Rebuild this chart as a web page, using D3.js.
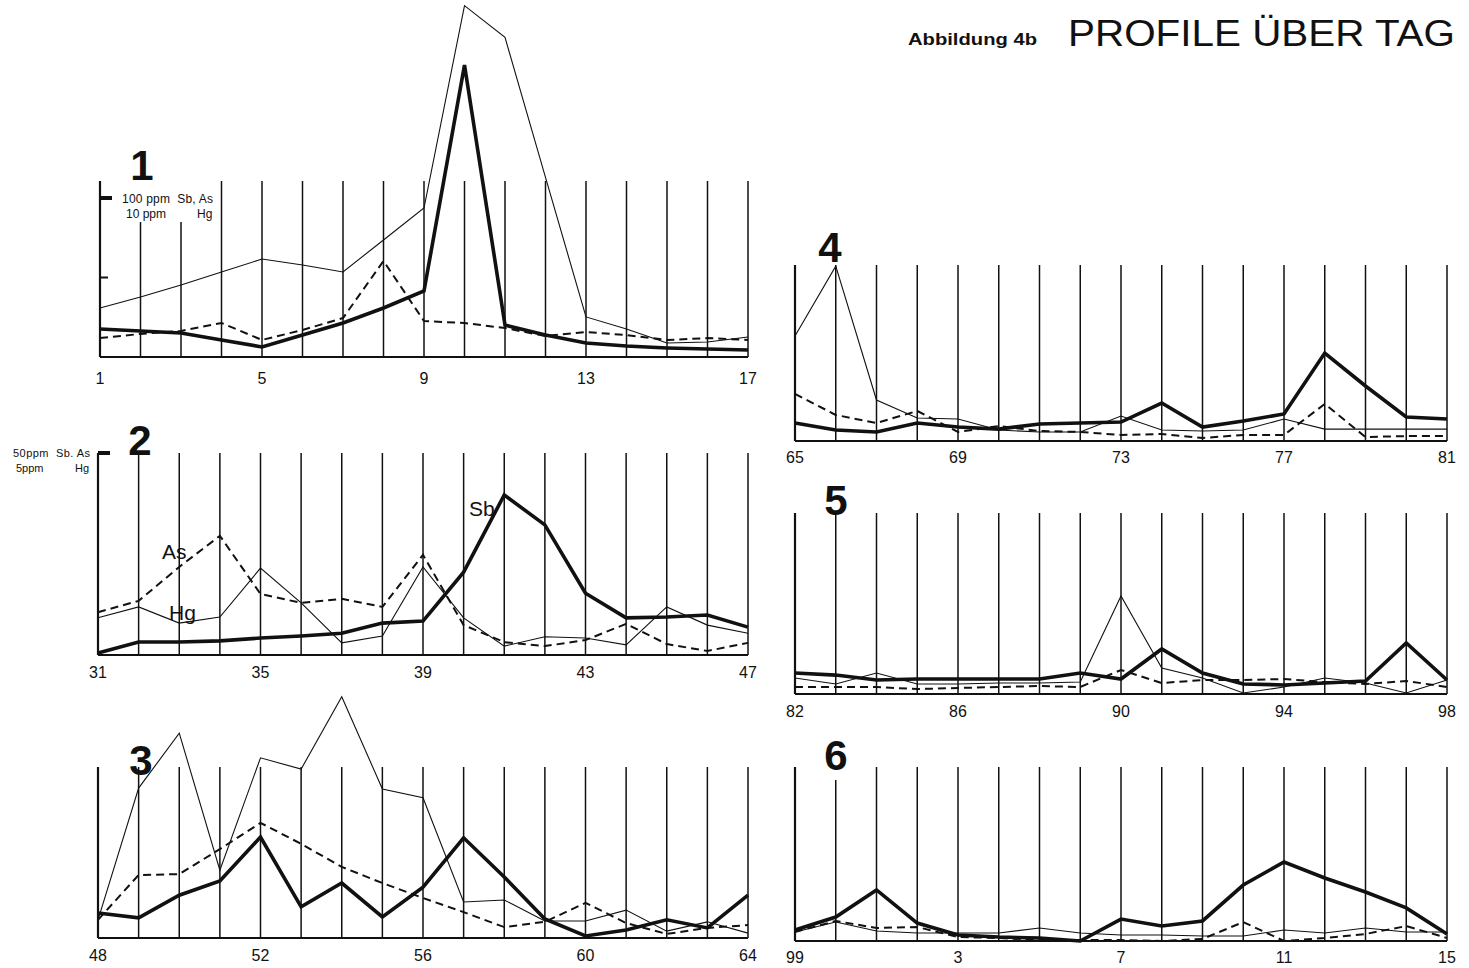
<!DOCTYPE html>
<html><head><meta charset="utf-8">
<script src="https://cdn.jsdelivr.net/npm/d3@7"></script>
<style>body{margin:0;background:#fff}svg{display:block}text{fill:#111}</style>
</head><body><svg id="c" width="1469" height="968"></svg>
<script>
// ---------- DATA (ppm; Sb & As on the ppm scale, Hg on the 1/10 scale) ----------
const p1Samples = ["1","2","3","4","5","6","7","8","9","10","11","12","13","14","15","16","17"];
const p1Ticks   = ["1","5","9","13","17"];
const p1Sb = [17.6,16.4,15.1,10.7,6.3,13.8,21.4,30.8,41.5,183.6,20.1,13.8,8.8,6.9,5.7,5.0,4.4];
const p1As = [11.9,14.5,16.4,21.4,10.7,17.0,24.5,60.4,22.6,21.4,18.2,13.2,15.7,13.8,10.7,11.9,10.7];
const p1Hg = [3.08,3.77,4.53,5.35,6.16,5.79,5.35,7.36,9.37,22.1,20.1,11.3,2.52,1.76,0.88,0.94,1.26];

const p2Samples = ["31","32","33","34","35","36","37","38","39","40","41","42","43","44","45","46","47"];
const p2Ticks   = ["31","35","39","43","47"];
const p2Sb = [0.5,3.2,3.2,3.5,4.2,4.7,5.4,7.9,8.4,20.5,39.6,32.2,15.3,9.2,9.4,9.9,6.9];
const p2As = [10.6,13.4,21.8,29.5,15.1,12.9,13.9,11.9,24.8,7.4,3.2,2.2,3.7,7.7,2.7,1.0,3.0];
const p2Hg = [0.92,1.19,0.79,0.94,2.15,1.29,0.30,0.47,2.18,0.92,0.22,0.45,0.42,0.25,1.19,0.74,0.54];

const p3Samples = ["48","49","50","51","52","53","54","55","56","57","58","59","60","61","62","63","64"];
const p3Ticks   = ["48","52","56","60","64"];
const p3Sb = [6.2,5.0,10.6,14.1,25.0,7.7,13.6,5.2,12.6,24.8,15.1,4.7,0.5,2.0,4.5,2.5,10.6];
const p3As = [4.5,15.6,15.8,22.0,28.5,23.3,17.6,13.6,9.9,6.4,2.7,4.0,8.7,3.7,1.0,2.5,3.2];
const p3Hg = [0.45,3.71,5.07,1.68,4.46,4.18,5.97,3.69,3.47,0.89,0.94,0.42,0.42,0.69,0.17,0.40,0.12];

const p4Samples = ["65","66","67","68","69","70","71","72","73","74","75","76","77","78","79","80","81"];
const p4Ticks   = ["65","69","73","77","81"];
const p4Sb = [11.3,6.9,5.7,11.3,8.8,7.5,10.7,11.3,11.9,23.9,8.8,12.6,17.0,55.3,34.6,15.1,13.8];
const p4As = [29.6,16.4,11.3,18.9,5.7,9.4,6.3,5.7,3.8,4.4,1.9,3.8,3.8,23.3,2.5,3.1,3.1];
const p4Hg = [6.60,11.0,2.58,1.45,1.38,0.69,0.57,0.57,1.57,0.69,0.63,0.69,1.38,0.75,0.75,0.75,0.75];

const p5Samples = ["82","83","84","85","86","87","88","89","90","91","92","93","94","95","96","97","98"];
const p5Ticks   = ["82","86","90","94","98"];
const p5Sb = [13.2,11.9,8.8,9.4,9.4,9.4,9.4,13.2,9.4,28.3,13.2,6.3,5.7,6.9,8.2,32.1,8.8];
const p5As = [4.4,4.4,4.4,3.1,3.8,4.4,5.0,4.4,15.1,6.9,8.8,8.8,9.4,7.5,6.3,8.2,4.4];
const p5Hg = [1.01,0.63,1.32,0.63,0.63,0.69,0.69,0.75,6.16,1.64,1.01,0.06,0.44,1.01,0.69,0.06,0.88];

const p6Samples = ["99","100","1","2","3","4","5","6","7","8","9","10","11","12","13","14","15"];
const p6Ticks   = ["99","3","7","11","15"];
const p6Sb = [6.9,15.1,32.1,11.3,3.8,2.5,1.9,0,13.8,9.4,12.6,35.2,49.7,39.6,30.8,20.8,4.4];
const p6As = [5.7,12.6,8.2,8.8,2.5,1.9,0.6,0.6,0.6,0,1.3,11.9,0,1.9,4.4,9.4,1.9];
const p6Hg = [0.57,1.19,0.63,0.50,0.50,0.50,0.82,0.50,0.38,0.38,0.31,0.31,0.69,0.50,0.82,0.57,0.57];

const panelNames = ["1","2","3","4","5","6"];
const scaleTexts1 = ["100 ppm  Sb, As", "10 ppm", "Hg"];
const scaleTexts2 = ["50ppm  Sb. As", "5ppm", "Hg"];

// ---------- LAYOUT ----------
const svg = d3.select("#c");
const INK = "#111";
const font = "'Liberation Sans', Arial, sans-serif";

const panels = [
  {samples:p1Samples,ticks:p1Ticks,sb:p1Sb,as:p1As,hg:p1Hg,x0:100,x1:748,base:357,top:181,unit:100,unitY:198,num:[142,180],lab:27},
  {samples:p2Samples,ticks:p2Ticks,sb:p2Sb,as:p2As,hg:p2Hg,x0:98,x1:748,base:655,top:453,unit:50,unitY:453,num:[140,455],lab:23},
  {samples:p3Samples,ticks:p3Ticks,sb:p3Sb,as:p3As,hg:p3Hg,x0:98,x1:748,base:938,top:767,unit:50,unitY:736,num:[141,775],lab:23},
  {samples:p4Samples,ticks:p4Ticks,sb:p4Sb,as:p4As,hg:p4Hg,x0:795,x1:1447,base:441,top:265,unit:100,unitY:282,num:[830,262],lab:22},
  {samples:p5Samples,ticks:p5Ticks,sb:p5Sb,as:p5As,hg:p5Hg,x0:795,x1:1447,base:694,top:513,unit:100,unitY:535,num:[836,515],lab:23},
  {samples:p6Samples,ticks:p6Ticks,sb:p6Sb,as:p6As,hg:p6Hg,x0:795,x1:1447,base:941,top:767,unit:100,unitY:782,num:[836,770],lab:22}
];

panels.forEach((p, pi) => {
  const g = svg.append("g");
  const x = d3.scalePoint().domain(p.samples).range([p.x0, p.x1]);
  const y = d3.scaleLinear().domain([0, p.unit]).range([p.base, p.unitY]);
  const yHg = d3.scaleLinear().domain([0, p.unit / 10]).range([p.base, p.unitY]);

  // vertical sample lines
  g.selectAll("line.v").data(p.samples).join("line")
    .attr("x1", d => x(d)).attr("x2", d => x(d))
    .attr("y1", (d, i) => (pi === 0 && (i === 1 || i === 2)) ? 222 : (pi === 5 && i === 1 ? 780 : p.top))
    .attr("y2", p.base)
    .attr("stroke", INK).attr("stroke-width", (d, i) => i === 0 ? 2.2 : 1.5);

  // baseline
  g.append("line").attr("x1", p.x0).attr("x2", p.x1).attr("y1", p.base).attr("y2", p.base)
    .attr("stroke", INK).attr("stroke-width", 2);

  // x tick labels
  g.selectAll("text.t").data(p.ticks).join("text")
    .attr("x", d => x(d)).attr("y", p.base + p.lab)
    .attr("text-anchor", "middle").attr("font-family", font).attr("font-size", 16)
    .text(d => d);

  // panel number
  g.append("text").attr("x", p.num[0]).attr("y", p.num[1])
    .attr("text-anchor", "middle").attr("font-family", font).attr("font-weight", "bold")
    .attr("font-size", 42).text(panelNames[pi]);

  const lineGen = (sc) => d3.line().x((d, i) => x(p.samples[i])).y(d => sc(d));

  g.append("path").attr("d", lineGen(yHg)(p.hg)).attr("fill", "none")
    .attr("stroke", INK).attr("stroke-width", 1.1).attr("stroke-linejoin", "miter");
  g.append("path").attr("d", lineGen(y)(p.as)).attr("fill", "none")
    .attr("stroke", INK).attr("stroke-width", 2).attr("stroke-dasharray", "8,5");
  g.append("path").attr("d", lineGen(y)(p.sb)).attr("fill", "none")
    .attr("stroke", INK).attr("stroke-width", 3.6).attr("stroke-linejoin", "miter");

  // scale marks
  if (pi === 0) {
    g.append("line").attr("x1", p.x0).attr("x2", p.x0 + 12).attr("y1", y(100)).attr("y2", y(100))
      .attr("stroke", INK).attr("stroke-width", 4);
    g.append("line").attr("x1", p.x0).attr("x2", p.x0 + 8).attr("y1", y(50)).attr("y2", y(50))
      .attr("stroke", INK).attr("stroke-width", 2);
    g.append("text").attr("x", 122).attr("y", y(100) + 5).attr("font-family", font).attr("font-size", 12)
      .attr("xml:space", "preserve").attr("textLength", 91).attr("lengthAdjust", "spacing").text(scaleTexts1[0]);
    g.append("text").attr("x", 126).attr("y", y(100) + 20).attr("font-family", font).attr("font-size", 12).text(scaleTexts1[1]);
    g.append("text").attr("x", 197).attr("y", y(100) + 20).attr("font-family", font).attr("font-size", 12).text(scaleTexts1[2]);
  }
  if (pi === 1) {
    g.append("line").attr("x1", p.x0).attr("x2", p.x0 + 12).attr("y1", y(50)).attr("y2", y(50))
      .attr("stroke", INK).attr("stroke-width", 4);
    g.append("text").attr("x", 13).attr("y", y(50) + 4).attr("font-family", font).attr("font-size", 11)
      .attr("xml:space", "preserve").attr("textLength", 77).attr("lengthAdjust", "spacing").text(scaleTexts2[0]);
    g.append("text").attr("x", 16).attr("y", y(50) + 19).attr("font-family", font).attr("font-size", 11).text(scaleTexts2[1]);
    g.append("text").attr("x", 75).attr("y", y(50) + 19).attr("font-family", font).attr("font-size", 11).text(scaleTexts2[2]);
    // series labels
    g.append("text").attr("x", 162).attr("y", 559).attr("font-family", font).attr("font-size", 21).text("As");
    g.append("text").attr("x", 169).attr("y", 620).attr("font-family", font).attr("font-size", 21).text("Hg");
    g.append("text").attr("x", 469).attr("y", 516).attr("font-family", font).attr("font-size", 21).text("Sb");
  }
});

// titles
svg.append("text").attr("x", 908).attr("y", 45).attr("font-family", font).attr("font-size", 17)
  .attr("font-weight", "bold").attr("textLength", 129).attr("lengthAdjust", "spacingAndGlyphs")
  .text("Abbildung 4b");
svg.append("text").attr("x", 1068).attr("y", 46).attr("font-family", font)
  .attr("font-size", 37).attr("textLength", 387).attr("lengthAdjust", "spacingAndGlyphs")
  .text("PROFILE ÜBER TAG");
</script></body></html>
